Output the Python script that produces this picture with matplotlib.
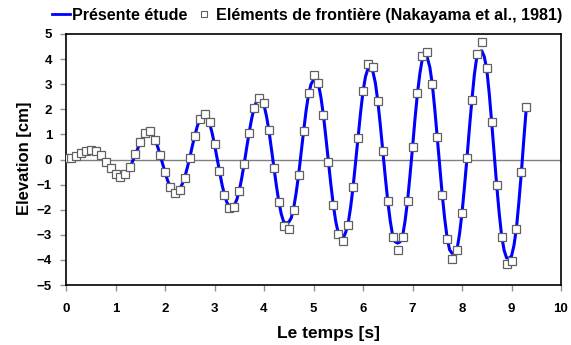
import numpy as np
import matplotlib
matplotlib.use("Agg")
import matplotlib.pyplot as plt
from matplotlib.lines import Line2D

plt.rcParams['font.family'] = ['Liberation Sans', 'DejaVu Sans']
plt.rcParams['font.weight'] = 'bold'

# simulation (blue line), sampled every 0.05 s
t_sim = np.arange(187) * 0.05
eta_sim = [
    0.05, 0.07, 0.10, 0.13, 0.17, 0.21, 0.25, 0.29, 0.32, 0.35,
    0.36, 0.36, 0.33, 0.27, 0.19, 0.06, -0.07, -0.22, -0.35, -0.48,
    -0.57, -0.65, -0.67, -0.65, -0.57, -0.44, -0.28, -0.05, 0.18, 0.44,
    0.67, 0.88, 1.03, 1.10, 1.10, 0.99, 0.80, 0.52, 0.20, -0.16,
    -0.50, -0.82, -1.07, -1.22, -1.28, -1.27, -1.17, -0.97, -0.70, -0.33,
    0.07, 0.52, 0.93, 1.31, 1.60, 1.76, 1.80, 1.69, 1.45, 1.07,
    0.60, 0.07, -0.47, -0.98, -1.41, -1.71, -1.87, -1.91, -1.83, -1.60,
    -1.25, -0.74, -0.17, 0.47, 1.07, 1.62, 2.05, 2.32, 2.41, 2.35,
    2.17, 1.73, 1.15, 0.43, -0.31, -1.04, -1.69, -2.18, -2.50, -2.53,
    -2.50, -2.33, -1.93, -1.32, -0.60, 0.27, 1.13, 1.94, 2.60, 3.00,
    3.17, 3.15, 3.00, 2.48, 1.77, 0.88, -0.07, -0.98, -1.81, -2.47,
    -2.93, -3.10, -3.14, -2.90, -2.55, -1.90, -1.09, -0.12, 0.87, 1.85,
    2.71, 3.30, 3.62, 3.62, 3.50, 3.05, 2.31, 1.37, 0.33, -0.69,
    -1.65, -2.44, -3.05, -3.28, -3.33, -3.28, -3.05, -2.45, -1.65, -0.62,
    0.47, 1.61, 2.63, 3.44, 4.03, 4.12, 4.05, 3.68, 3.00, 2.01,
    0.87, -0.28, -1.39, -2.35, -3.13, -3.60, -3.74, -3.70, -3.58, -2.97,
    -2.13, -1.08, 0.05, 1.25, 2.37, 3.39, 4.10, 4.28, 4.33, 4.10,
    3.60, 2.64, 1.47, 0.24, -1.01, -2.11, -3.03, -3.61, -3.92, -3.93,
    -3.85, -3.42, -2.73, -1.68, -0.50, 0.83, 2.09,
]

# boundary element results (squares), every 0.1 s
t_bem = np.arange(94) * 0.1
eta_bem = [
    0.05, 0.06, 0.15, 0.25, 0.33, 0.39, 0.33, 0.19, -0.08, -0.35,
    -0.58, -0.70, -0.59, -0.30, 0.20, 0.68, 1.05, 1.15, 0.79, 0.19,
    -0.50, -1.10, -1.34, -1.23, -0.74, 0.05, 0.92, 1.61, 1.83, 1.48,
    0.61, -0.47, -1.43, -1.95, -1.91, -1.27, -0.18, 1.07, 2.07, 2.47,
    2.27, 1.16, -0.32, -1.71, -2.63, -2.75, -2.03, -0.62, 1.15, 2.63,
    3.38, 3.05, 1.78, -0.08, -1.83, -2.97, -3.26, -2.60, -1.10, 0.87,
    2.74, 3.79, 3.68, 2.33, 0.32, -1.67, -3.09, -3.62, -3.10, -1.66,
    0.48, 2.65, 4.11, 4.27, 3.01, 0.88, -1.40, -3.16, -3.95, -3.62,
    -2.15, 0.04, 2.39, 4.20, 4.68, 3.64, 1.48, -1.03, -3.07, -4.15,
    -4.05, -2.75, -0.51, 2.09,
]

fig = plt.figure(figsize=(5.71, 3.45), dpi=100)
ax = fig.add_axes([66/571, 1 - 285/345, 495/571, 251/345])

ax.axhline(0, color='#808080', lw=1, zorder=1)
ax.plot(t_sim, eta_sim, color='#0000ff', lw=2.2, zorder=2, solid_joinstyle='round')
ax.plot(t_bem, eta_bem, ls='', marker='s', ms=5.5, mfc='white', mec='#606060',
        mew=0.9, zorder=3)

ax.set_xlim(0, 10)
ax.set_ylim(-5, 5)
ax.set_xticks(range(0, 11))
ax.set_yticks(range(-5, 6))
ax.tick_params(direction='out', length=4, width=1, color='#909090',
               labelsize=9.5)
ax.tick_params(axis='x', pad=9)
ax.tick_params(axis='y', pad=6)
for lab in ax.get_xticklabels() + ax.get_yticklabels():
    lab.set_fontweight('bold')
for sp in ax.spines.values():
    sp.set_color('black')
    sp.set_linewidth(1.2)

ax.set_xlabel('Le temps [s]', fontsize=12.5, fontweight='bold')
ax.set_ylabel('Elevation [cm]', fontsize=12, fontweight='bold')
ax.xaxis.set_label_coords(0.531, -0.165)
ax.yaxis.set_label_coords(-0.068, 0.506)

handles = [
    Line2D([], [], color='#0000ff', lw=2),
    Line2D([], [], ls='', marker='s', ms=5, mfc='white', mec='#606060', mew=0.8),
]
fig.legend(handles, ['Présente étude', 'Eléments de frontière (Nakayama et al., 1981)'],
           loc='center left', bbox_to_anchor=(52/571, 1 - 15.5/345), ncol=2,
           frameon=False, handlelength=1.1, handletextpad=0.15,
           columnspacing=0.5, borderpad=0, borderaxespad=0, numpoints=1,
           prop={'weight': 'bold', 'size': 11.6})

fig.savefig('out.png', dpi=100)
